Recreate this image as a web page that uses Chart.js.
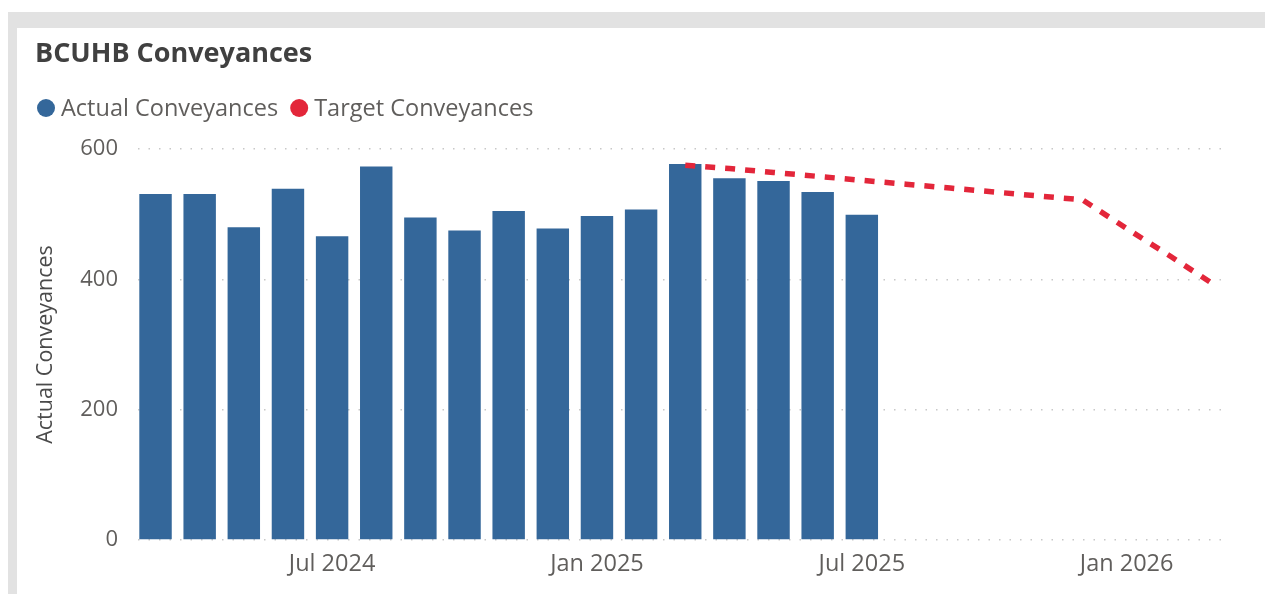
<!DOCTYPE html>
<html>
<head>
<meta charset="utf-8">
<script src="https://cdn.jsdelivr.net/npm/chart.js@4"></script>
<style>
  html, body { margin: 0; padding: 0; background: #ffffff; width: 1265px; height: 594px; overflow: hidden; }
  #bandTop { position: absolute; left: 8px; top: 12px; width: 1257px; height: 16px; background: #e2e2e2; }
  #bandLeft { position: absolute; left: 8px; top: 12px; width: 9px; height: 582px; background: #e2e2e2; }
  #card { position: absolute; left: 17px; top: 28px; width: 1248px; height: 566px; background: #ffffff; border-top-left-radius: 7px; }
  canvas { display: block; }
</style>
</head>
<body>
<div id="bandTop"></div>
<div id="bandLeft"></div>
<div id="card"><canvas id="c" width="1248" height="566"></canvas></div>
<script>
// ---- data ----
const chartTitle = "BCUHB Conveyances";
const months = ["Mar 2024","Apr 2024","May 2024","Jun 2024","Jul 2024","Aug 2024","Sep 2024","Oct 2024","Nov 2024","Dec 2024",
                "Jan 2025","Feb 2025","Mar 2025","Apr 2025","May 2025","Jun 2025","Jul 2025","Aug 2025","Sep 2025","Oct 2025",
                "Nov 2025","Dec 2025","Jan 2026","Feb 2026","Mar 2026"];
const actualMonths = months.slice(0, 17);
const actualValues = [531, 531, 480, 539, 466, 573, 495, 475, 505, 478, 497, 507, 577, 555, 551, 534, 499];
const targetMonths = months.slice(12, 25);
const targetValues = [575, 570, 564, 558, 552, 546, 540, 534, 528, 522, 478, 435, 391];
const yTicks = [0, 200, 400, 600];
const xTickLabels = ["Jul 2024", "Jan 2025", "Jul 2025", "Jan 2026"];

const FONT = "'Open Sans', 'Noto Sans', 'DejaVu Sans', sans-serif";
const barColor = "#34679a";
const targetColor = "#e3263a";

const actualPoints = actualMonths.map((m, i) => ({ x: months.indexOf(m), y: actualValues[i] }));
const targetPoints = targetMonths.map((m, i) => ({ x: months.indexOf(m), y: targetValues[i] }));

const headerPlugin = {
  id: 'header',
  afterDraw(chart) {
    const ctx = chart.ctx;
    ctx.save();
    ctx.textBaseline = 'middle';
    ctx.textAlign = 'left';
    ctx.fillStyle = '#404040';
    ctx.font = `700 27px ${FONT}`;
    ctx.fillText(chartTitle, 18, 26.5);
    ctx.font = `23.5px ${FONT}`;
    let x = 20;
    const y = 80;
    chart.data.datasets.forEach((ds) => {
      const col = ds.legendColor;
      ctx.fillStyle = col;
      ctx.beginPath();
      ctx.arc(x + 9, y, 9, 0, Math.PI * 2);
      ctx.fill();
      x += 24;
      ctx.fillStyle = '#605e5c';
      ctx.fillText(ds.label, x, y + 1);
      x += ctx.measureText(ds.label).width + 12;
    });
    ctx.restore();
  }
};

new Chart(document.getElementById('c'), {
  type: 'bar',
  data: {
    datasets: [
      {
        type: 'bar',
        label: 'Actual Conveyances',
        legendColor: barColor,
        data: actualPoints,
        backgroundColor: barColor,
        borderWidth: 0,
        barPercentage: 0.735,
        categoryPercentage: 1.0,
        order: 1
      },
      {
        type: 'line',
        label: 'Target Conveyances',
        legendColor: targetColor,
        data: targetPoints,
        borderColor: targetColor,
        borderWidth: 5.5,
        borderDash: [10, 10],
        borderCapStyle: 'butt',
        pointRadius: 0,
        tension: 0,
        fill: false,
        order: 0
      }
    ]
  },
  options: {
    responsive: false,
    animation: false,
    devicePixelRatio: 1,
    layout: { padding: { top: 121, right: 39, bottom: 0, left: 0 } },
    plugins: {
      legend: { display: false },
      title: { display: false },
      tooltip: { enabled: false }
    },
    scales: {
      x: {
        type: 'linear',
        offset: false,
        bounds: 'data',
        min: -0.397,
        max: 24.25,
        grid: { display: false, drawTicks: false, offset: false },
        border: { display: false },
        afterBuildTicks: (s) => { s.ticks = xTickLabels.map(l => ({ value: months.indexOf(l) })); },
        afterFit: (s) => { s.height = 54; },
        ticks: {
          autoSkip: false,
          maxRotation: 0,
          padding: 10,
          color: '#605e5c',
          font: { family: FONT, size: 23.5 },
          callback: (v) => months[v]
        }
      },
      y: {
        min: 0,
        max: 600,
        afterBuildTicks: (s) => { s.ticks = yTicks.map(v => ({ value: v })); },
        afterFit: (s) => { s.width = 121; },
        grid: { color: '#c8c8c8', lineWidth: 1.5, drawTicks: false },
        border: { display: false, dash: [1.5, 9] },
        ticks: {
          padding: 20,
          color: '#605e5c',
          font: { family: FONT, size: 22 }
        },
        title: {
          display: true,
          text: 'Actual Conveyances',
          color: '#4a4a4a',
          font: { family: FONT, size: 21.5 },
          padding: { top: 16, bottom: 0 }
        }
      }
    }
  },
  plugins: [headerPlugin]
});
</script>
</body>
</html>
